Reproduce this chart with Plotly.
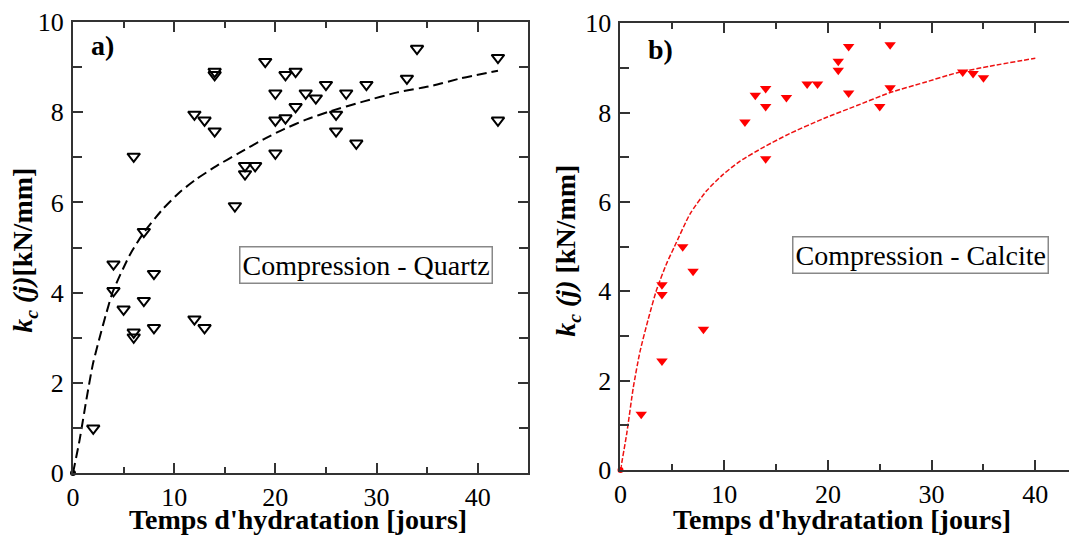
import plotly.graph_objects as go

# ---- data ----
quartz_t = [2, 4, 4, 5, 6, 6, 6, 7, 7, 8, 8, 12, 12, 13, 13, 14, 14, 14, 16, 17, 17, 18, 19,
            20, 20, 20, 21, 21, 22, 22, 23, 24, 25, 26, 26, 27, 28, 29, 33, 34, 42, 42]
quartz_k = [0.99, 4.63, 4.04, 3.63, 7.02, 3.12, 3.01, 5.35, 3.82, 4.42, 3.22, 7.95, 3.41, 7.82, 3.22,
            8.90, 8.83, 7.58, 5.92, 6.81, 6.63, 6.81, 9.12, 8.42, 7.82, 7.09, 8.83, 7.87, 8.90, 8.12,
            8.42, 8.31, 8.61, 7.95, 7.58, 8.42, 7.31, 8.61, 8.75, 9.41, 9.21, 7.82]

calcite_t = [2, 4, 4, 4, 6, 7, 8, 12, 13, 14, 14, 14, 16, 18, 19, 21, 21, 22, 22, 25, 26, 26, 33, 34, 35]
calcite_k = [1.25, 4.15, 3.93, 2.44, 5.00, 4.45, 3.15, 7.79, 8.39, 8.54, 8.14, 6.97, 8.34, 8.64, 8.64,
             9.15, 8.95, 9.48, 8.44, 8.14, 9.52, 8.56, 8.91, 8.88, 8.78]

origin_t = [0]
origin_k = [0]

quartz_fit_t = [0, 0.65, 1.31, 1.97, 2.63, 3.3, 3.95, 5.6, 6.93, 8.91, 10.57, 12.22, 14.2,
                16.52, 18.83, 20.8, 23.1, 25.4, 28.75, 32.06, 35.4, 38.3, 42]
quartz_fit_k = [0, 0.73, 1.61, 2.42, 3.0, 3.55, 4.03, 4.83, 5.31, 5.86, 6.23, 6.52, 6.81,
                7.11, 7.40, 7.62, 7.84, 8.02, 8.24, 8.44, 8.58, 8.75, 8.92]

calcite_fit_t = [0, 0.6, 1.23, 1.88, 2.68, 3.49, 4.46, 5.2, 6.7, 8.3, 9.91, 11.5, 13.9, 16.3,
                 19.6, 22.8, 26.0, 29.2, 32.4, 35.6, 40.0]
calcite_fit_k = [0, 0.81, 1.84, 2.65, 3.38, 4.04, 4.63, 5.0, 5.73, 6.25, 6.62, 6.91, 7.24, 7.53,
                 7.87, 8.16, 8.45, 8.67, 8.89, 9.04, 9.22]

panel_labels = ["a)", "b)"]
box_labels = ["Compression - Quartz", "Compression - Calcite"]
x_title = "Temps d'hydratation [jours]"
y_titles = ["<b><i>k</i><sub><i>c</i></sub> <i>(j)</i>[kN/mm]</b>",
            "<b><i>k</i><sub><i>c</i></sub> <i>(j)</i> [kN/mm]</b>"]

SERIF = "Liberation Serif, Times New Roman, serif"
AX = "#333333"

fig = go.Figure()

# left panel
fig.add_trace(go.Scatter(x=quartz_fit_t, y=quartz_fit_k, mode="lines",
                         line=dict(color="black", width=2, dash="10px,5px", shape="spline",
                                   smoothing=0.6),
                         xaxis="x", yaxis="y"))
fig.add_trace(go.Scatter(x=quartz_t, y=quartz_k, mode="markers",
                         marker=dict(symbol="triangle-down-open", size=11, color="black",
                                     line=dict(width=2, color="black")),
                         xaxis="x", yaxis="y"))
fig.add_trace(go.Scatter(x=origin_t, y=origin_k, mode="markers", cliponaxis=False,
                         marker=dict(symbol="circle", size=6, color="black"),
                         xaxis="x", yaxis="y"))

# right panel
fig.add_trace(go.Scatter(x=calcite_fit_t, y=calcite_fit_k, mode="lines",
                         line=dict(color="#ee1111", width=1.5, dash="5px,2px", shape="spline",
                                   smoothing=0.6),
                         xaxis="x2", yaxis="y2"))
fig.add_trace(go.Scatter(x=calcite_t, y=calcite_k, mode="markers",
                         marker=dict(symbol="triangle-down", size=10, color="#ff0000",
                                     line=dict(width=0)),
                         xaxis="x2", yaxis="y2"))
fig.add_trace(go.Scatter(x=origin_t, y=origin_k, mode="markers", cliponaxis=False,
                         marker=dict(symbol="circle", size=6, color="#ff0000"),
                         xaxis="x2", yaxis="y2"))

tickfont = dict(family=SERIF, size=26, color="black")

def xax(domain, rng, anchor):
    return dict(domain=domain, range=rng, anchor=anchor, tickmode="linear", tick0=0, dtick=10,
                ticks="inside", ticklen=10, tickwidth=1.5, tickcolor=AX,
                minor=dict(dtick=5, ticks="inside", ticklen=6, tickwidth=1.5, tickcolor=AX),
                showline=True, linecolor=AX, linewidth=2, mirror="allticks",
                showgrid=False, zeroline=False, tickfont=tickfont, ticklabelstandoff=0,
                ticklabeloverflow="allow")

def yax(domain, anchor, mirror):
    return dict(domain=domain, range=[0, 10], anchor=anchor, tickmode="linear", tick0=0, dtick=2,
                ticks="inside", ticklen=10, tickwidth=1.5, tickcolor=AX,
                minor=dict(dtick=1, ticks="inside", ticklen=9, tickwidth=1.5, tickcolor=AX),
                showline=True, linecolor=AX, linewidth=2, mirror=mirror,
                showgrid=False, zeroline=False, tickfont=tickfont, ticklabelstandoff=2,
                ticklabeloverflow="allow")

# the page body has an 8px margin, so the figure is 8px smaller and margins shifted
fig.update_layout(
    width=1069, height=529,
    margin=dict(l=65, r=0, t=10, b=64),
    paper_bgcolor="white", plot_bgcolor="white",
    showlegend=False,
    xaxis=xax([0, 0.4535], [0, 45], "y"),
    yaxis=yax([0, 1], "x", "allticks"),
    xaxis2=xax([0.5453, 1.0], [0, 44.02], "y2"),
    yaxis2=yax([0.0066, 0.997], "x2", False),
)

def px(xpage):
    return (xpage - 73) / 1004.0

ann = []
# panel labels
ann.append(dict(x=2.9, y=9.48, xref="x", yref="y", text="<b>" + panel_labels[0] + "</b>",
                showarrow=False, xanchor="center", yanchor="middle",
                font=dict(family=SERIF, size=28, color="black")))
ann.append(dict(x=3.9, y=9.42, xref="x2", yref="y2", text="<b>" + panel_labels[1] + "</b>",
                showarrow=False, xanchor="center", yanchor="middle",
                font=dict(family=SERIF, size=28, color="black")))
# boxed labels
ann.append(dict(x=29.0, y=4.62, xref="x", yref="y", text=box_labels[0], showarrow=False,
                xanchor="center", yanchor="middle",
                font=dict(family=SERIF, size=28, color="black"),
                bordercolor="#888888", borderwidth=1.5, borderpad=2, bgcolor="white"))
ann.append(dict(x=28.9, y=4.81, xref="x2", yref="y2", text=box_labels[1], showarrow=False,
                xanchor="center", yanchor="middle",
                font=dict(family=SERIF, size=28, color="black"),
                bordercolor="#888888", borderwidth=1.5, borderpad=2, bgcolor="white"))
# x titles
for xc in (297.5, 842):
    ann.append(dict(x=px(xc), y=-0.103, xref="paper", yref="paper",
                    xanchor="center", yanchor="middle",
                    text="<b>" + x_title + "</b>", showarrow=False,
                    font=dict(family=SERIF, size=28, color="black")))
# y titles
for xc, t in ((25, y_titles[0]), (568, y_titles[1])):
    ann.append(dict(x=px(xc), y=0.493, xref="paper", yref="paper", text=t,
                    xanchor="center", yanchor="middle",
                    textangle=-90, showarrow=False,
                    font=dict(family=SERIF, size=28, color="black")))
fig.update_layout(annotations=ann)

fig.write_html("out.html")
